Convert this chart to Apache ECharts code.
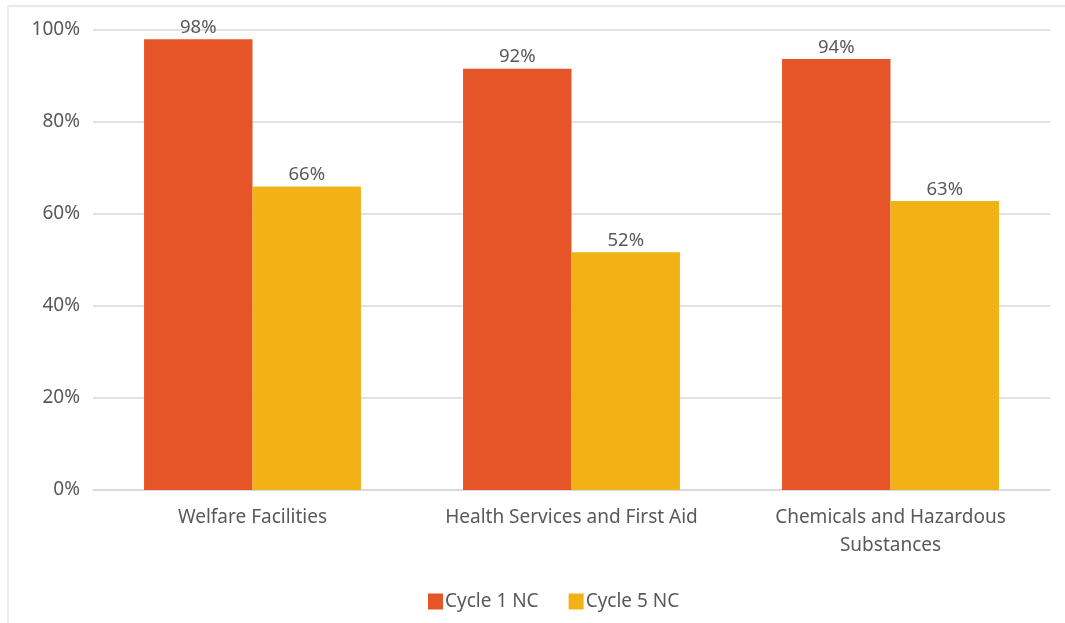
<!DOCTYPE html>
<html>
<head>
<meta charset="utf-8">
<script src="https://cdn.jsdelivr.net/npm/echarts@6/dist/echarts.min.js"></script>
<style>
html,body{margin:0;padding:0;background:#fff;}
#chart{width:1065px;height:623px;}
</style>
</head>
<body>
<div id="chart"></div>
<script>
const categories = ['Welfare Facilities', 'Health Services and First Aid', 'Chemicals and Hazardous\nSubstances'];
const cycle1 = [98, 91.6, 93.7];
const cycle5 = [66, 51.7, 62.8];
const yTicks = [0, 20, 40, 60, 80, 100];

const chart = echarts.init(document.getElementById('chart'));
const font = '"Noto Sans", "Open Sans", sans-serif';
const txt = '#595959';
chart.setOption({
  animation: false,
  graphic: [
    {type: 'line', shape: {x1: 8, y1: 6, x2: 1065, y2: 6}, style: {stroke: '#e8e8e8', lineWidth: 2}},
    {type: 'line', shape: {x1: 8, y1: 6, x2: 8, y2: 623}, style: {stroke: '#ececec', lineWidth: 2}}
  ],
  grid: {left: 93, right: 15, top: 30, bottom: 133, containLabel: false},
  legend: {
    left: 423, top: 587,
    itemWidth: 15, itemHeight: 16, itemGap: 30,
    icon: 'rect',
    textStyle: {color: txt, fontFamily: font, fontSize: 19, padding: [0, 0, 0, -3]},
    data: ['Cycle 1 NC', 'Cycle 5 NC']
  },
  xAxis: {
    type: 'category',
    data: categories,
    axisLine: {lineStyle: {color: '#d9d9d9', width: 1.5}},
    axisTick: {show: false},
    axisLabel: {color: txt, fontFamily: font, fontSize: 19, margin: 14, lineHeight: 28, interval: 0, hideOverlap: false}
  },
  yAxis: {
    type: 'value',
    min: yTicks[0], max: yTicks[yTicks.length - 1], interval: 20,
    axisLine: {show: false},
    axisTick: {show: false},
    splitLine: {lineStyle: {color: '#d9d9d9', width: 1.5}},
    axisLabel: {color: txt, fontFamily: font, fontSize: 19, margin: 13, formatter: v => v + '%'}
  },
  series: [
    {
      name: 'Cycle 1 NC', type: 'bar', data: cycle1,
      barGap: '0%', barCategoryGap: '32%',
      itemStyle: {color: '#E65527'},
      label: {show: true, position: 'top', distance: 2, color: txt, fontFamily: font, fontSize: 18.5, formatter: p => Math.round(p.value) + '%'}
    },
    {
      name: 'Cycle 5 NC', type: 'bar', data: cycle5,
      itemStyle: {color: '#F2B115'},
      label: {show: true, position: 'top', distance: 2, color: txt, fontFamily: font, fontSize: 18.5, formatter: p => Math.round(p.value) + '%'}
    }
  ]
});
</script>
</body>
</html>
